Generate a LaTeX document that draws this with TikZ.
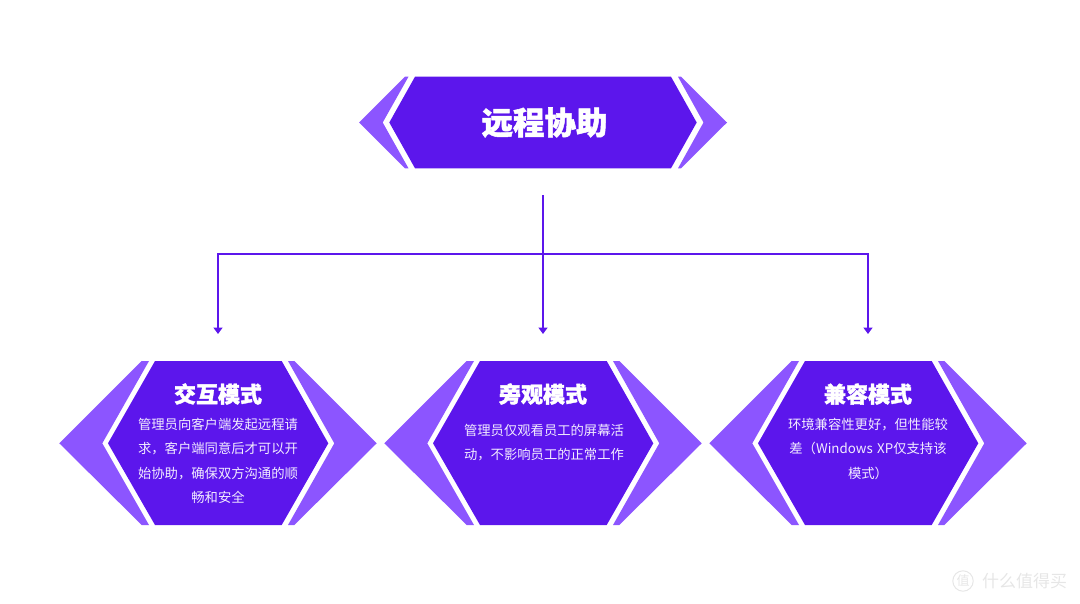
\documentclass[tikz,border=0pt]{standalone}
\usepackage{fontspec}
\setmainfont{Noto Sans CJK SC}[BoldFeatures={FakeBold=1.6}]
\usetikzlibrary{arrows.meta}
\definecolor{deep}{HTML}{5C16EC}
\definecolor{lite}{HTML}{8C55FF}
\definecolor{mark}{HTML}{E6E6E6}
\definecolor{soft}{HTML}{F2ECFF}
\tikzset{
  core/.style={fill=deep,draw=none},
  wing/.style={fill=lite,draw=none},
  link/.style={draw=deep,line width=2pt},
  tip/.style={-{Triangle[length=6.5pt,width=9pt]}},
  head/.style={text=white,font=\fontsize{22}{22}\selectfont\bfseries,inner sep=0pt},
  body/.style={text=soft,font=\fontsize{13.33}{24.3}\selectfont,align=center,inner sep=0pt,text width=175pt},
}
\newcommand{\sidehex}[3]{%
  \begin{scope}[xshift=#1pt]
    \fill[wing] (-158.7,443.3) -- (-76.3,361) -- (-69,361) -- (-115.7,443.3) -- (-69,525) -- (-76.3,525) -- cycle;
    \fill[wing] (158.7,443.3) -- (76.3,361) -- (70,361) -- (116.3,443.3) -- (70,525) -- (76.3,525) -- cycle;
    \fill[core] (-63,361) -- (63.7,361) -- (110.3,443.3) -- (63.7,525) -- (-63,525) -- (-110,443.3) -- cycle;
    \coordinate (#2) at (0,361);
    \coordinate (#3) at (0,334);
  \end{scope}}
\begin{document}
\begin{tikzpicture}[x=1pt,y=-1pt]
\useasboundingbox (0,0) rectangle (1080,603);
% top hexagon
\fill[wing] (359,122.5) -- (405,76.7) -- (408.5,76.7) -- (382.7,122.5) -- (408.5,168.3) -- (405,168.3) -- cycle;
\fill[wing] (727,122.5) -- (681,76.7) -- (678,76.7) -- (703.5,122.5) -- (678,168.3) -- (681,168.3) -- cycle;
\fill[core] (415,76.7) -- (671,76.7) -- (696.7,122.5) -- (671,168.3) -- (415,168.3) -- (389.3,122.5) -- cycle;
\node[text=white,font=\fontsize{31.5}{31.5}\selectfont\bfseries,inner sep=0pt] (title) at (544.5,122.5) {远程协助};
\coordinate (trunk) at (543,195);
% lower hexagons
\sidehex{218}{a}{atip}
\sidehex{543}{b}{btip}
\sidehex{868}{c}{ctip}
\coordinate (bus) at (543,253.5);
\draw[link] (trunk) -- (bus);
\draw[link,tip] (bus) -- (btip);
\draw[link,tip] (bus) -| (atip);
\draw[link,tip] (bus) -| (ctip);
\node[head] (ah) at (218,394) {交互模式};
\node[head] (bh) at (543,394) {旁观模式};
\node[head] (ch) at (868,394) {兼容模式};
\node[body,anchor=north] (at) at (218,418) {管理员向客户端发起远程请\\求，客户端同意后才可以开\\始协助，确保双方沟通的顺\\畅和安全};
\node[body,anchor=north] (bt) at (544,424) {管理员仅观看员工的屏幕活\\动，不影响员工的正常工作};
\node[body,anchor=north] (ct) at (868,418) {环境兼容性更好，但性能较\\差（Windows XP仅支持该\\模式）};
% watermark
\node[circle,draw=mark,line width=1pt,text=mark,inner sep=1pt,font=\fontsize{13}{13}\selectfont] (wm) at (963,581) {值};
\node[text=mark,font=\fontsize{17}{17}\selectfont,inner sep=0pt,anchor=west] (wt) at (982,581) {什么值得买};
\end{tikzpicture}
\end{document}
